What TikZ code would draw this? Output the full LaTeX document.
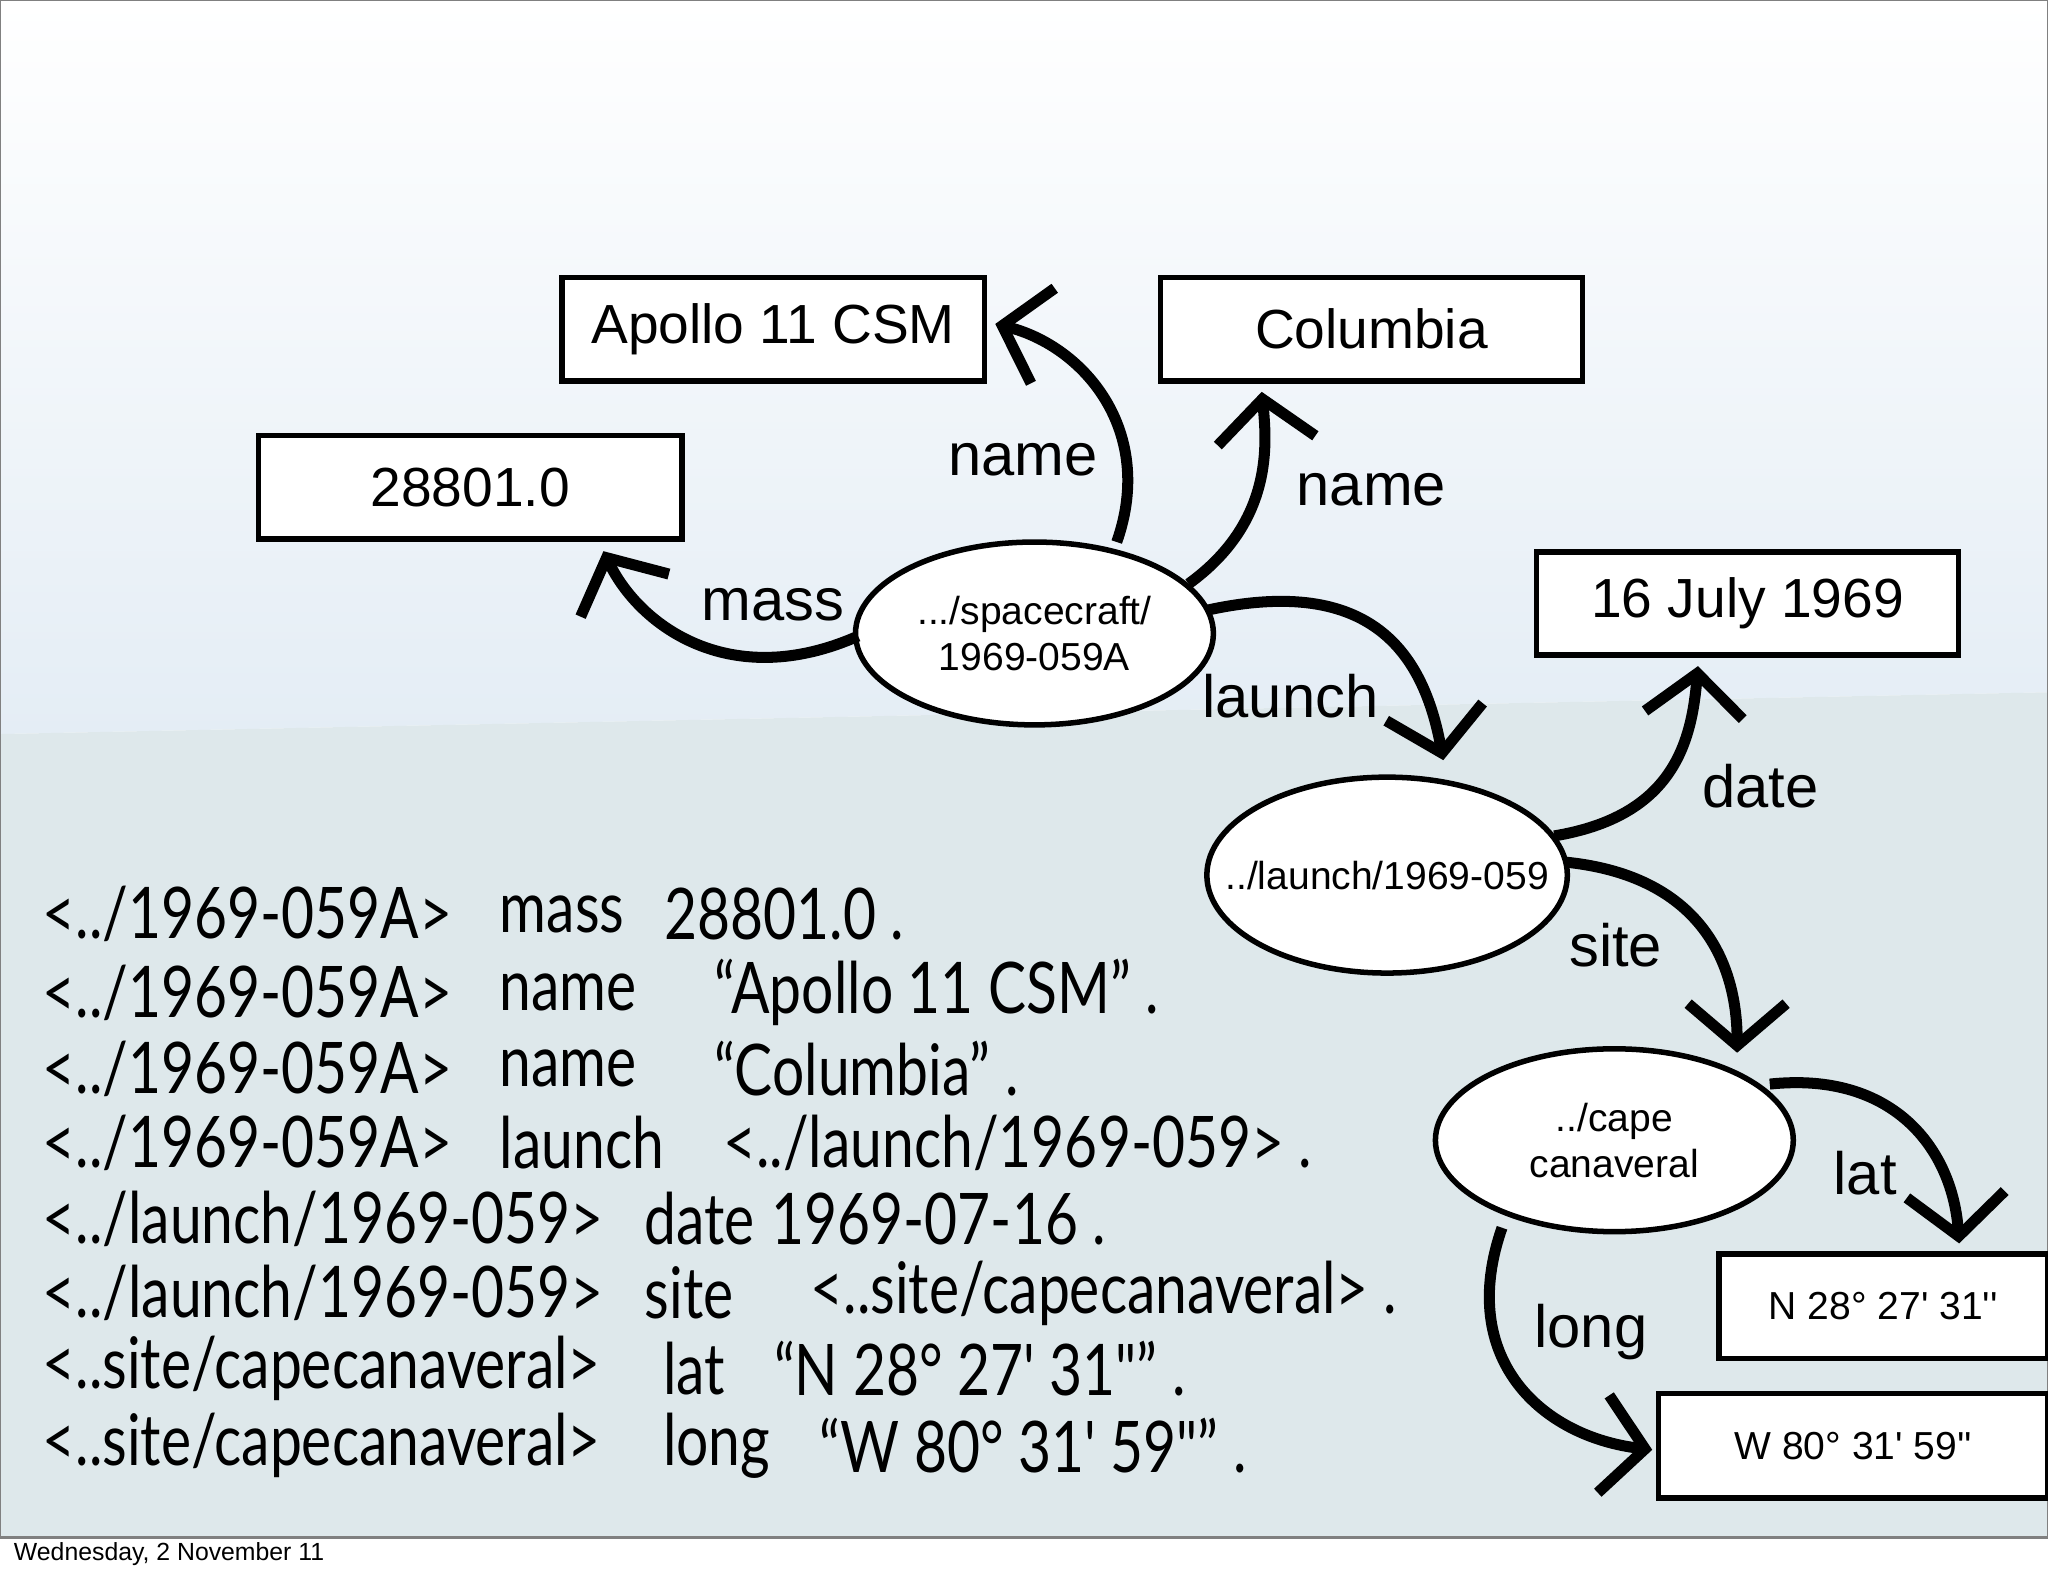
\documentclass[tikz,border=0pt]{standalone}
\usepackage{fontspec}
\setmainfont{Liberation Sans}
\newfontfamily\trip[FakeStretch=0.8]{Lato}
\usetikzlibrary{arrows.meta}
\definecolor{topb}{RGB}{228,237,245}
\definecolor{botb}{RGB}{222,232,235}
\begin{document}
\begin{tikzpicture}[x=0.01cm,y=-0.01cm,
 box/.style={draw,line width=1.2pt,fill=white,font=\fontsize{12}{14}\selectfont},
 arr/.style={line width=2.4pt,-{Straight Barb[length=0.32cm,width=0.75cm,line width=2.4pt]}},
 lab/.style={font=\fontsize{13}{15}\selectfont},
 tr/.style={anchor=west,font=\trip\fontsize{15.5}{18}\selectfont,inner sep=0}]
\useasboundingbox (0,0) rectangle (1568,1206);
\fill[white] (0,0) rectangle (1568,1206);
\shade[top color=white,bottom color=topb] (0,0) -- (1568,0) -- (1568,530) -- (0,562) -- cycle;
\fill[botb] (0,562) -- (1568,530) -- (1568,1177) -- (0,1177) -- cycle;
\draw[gray,line width=0.6pt] (0,0) rectangle (1568,1177);
\node[anchor=west,font=\fontsize{5.4}{7}\selectfont,inner sep=0] (foot) at (10,1190) {Wednesday, 2 November 11};
% boxes
\node[box,minimum width=3.23cm,minimum height=0.79cm] (apollo) at (592,252) {Apollo 11 CSM};
\node[box,minimum width=3.23cm,minimum height=0.79cm] (col) at (1050,252) {Columbia};
\node[box,minimum width=3.24cm,minimum height=0.79cm] (mass) at (360,373) {28801.0};
\node[box,minimum width=3.23cm,minimum height=0.79cm] (date) at (1338,462) {16 July 1969};
\node[box,minimum width=2.52cm,minimum height=0.80cm,font=\fontsize{8.5}{10}\selectfont] (lat) at (1442,1000) {N 28° 27{\textquotesingle} 31{\textquotesingle}{\textquotesingle}};
\node[box,minimum width=2.98cm,minimum height=0.80cm,font=\fontsize{8.5}{10}\selectfont] (long) at (1419,1107) {W 80° 31{\textquotesingle} 59{\textquotesingle}{\textquotesingle}};
% ellipses
\draw[line width=1.2pt,fill=white] (792,485) ellipse [x radius=137,y radius=70];
\node[align=center,font=\fontsize{8.5}{10}\selectfont] (sc) at (792,485) {.../spacecraft/\\1969-059A};
\draw[line width=1.2pt,fill=white] (1062,670) ellipse [x radius=138,y radius=75];
\node[font=\fontsize{8.5}{10}\selectfont] (la) at (1062,670) {../launch/1969-059};
\draw[line width=1.2pt,fill=white] (1236,873) ellipse [x radius=137,y radius=70];
\node[align=center,font=\fontsize{8.5}{10}\selectfont] (cape) at (1236,873) {../cape\\canaveral};
% arrows
\draw[arr] (657,487) .. controls (560,530) and (490,480) .. (462,422);
\draw[arr] (855,415) .. controls (885,330) and (830,265) .. (762,248);
\draw[arr] (910,447) .. controls (975,400) and (970,340) .. (966,300);
\draw[arr] (925,467) .. controls (1050,440) and (1090,500) .. (1105,582);
\draw[arr] (1190,640) .. controls (1280,625) and (1295,570) .. (1300,510);
\draw[arr] (1198,660) .. controls (1300,670) and (1330,735) .. (1330,806);
\draw[arr] (1355,830) .. controls (1450,820) and (1495,880) .. (1500,952);
\draw[arr] (1150,940) .. controls (1115,1040) and (1180,1100) .. (1265,1110);
% labels
\node[lab] at (783,352) {name};
\node[lab] at (1050,375) {name};
\node[lab] at (592,463) {mass};
\node[lab] at (988,533) {launch};
\node[lab] at (1348,602) {date};
\node[lab] at (1237,724) {site};
\node[lab] at (1428,898) {lat};
\node[lab] at (1218,1020) {long};
% triples
\node[tr] at (32,700) {<../1969-059A>}; \node[tr] at (382,700) {mass}; \node[tr] at (508,700) {28801.0 .};
\node[tr] at (32,760) {<../1969-059A>}; \node[tr] at (382,760) {name}; \node[tr] at (546,760) {“Apollo 11 CSM” .};
\node[tr] at (32,818) {<../1969-059A>}; \node[tr] at (382,818) {name}; \node[tr] at (546,818) {“Columbia” .};
\node[tr] at (32,875) {<../1969-059A>}; \node[tr] at (382,875) {launch}; \node[tr] at (553,875) {<../launch/1969-059> .};
\node[tr] at (32,933) {<../launch/1969-059>}; \node[tr] at (493,933) {date}; \node[tr] at (590,933) {1969-07-16 .};
\node[tr] at (32,990) {<../launch/1969-059>}; \node[tr] at (493,990) {site}; \node[tr] at (620,990) {<..site/capecanaveral> .};
\node[tr] at (32,1048) {<..site/capecanaveral>}; \node[tr] at (507,1048) {lat}; \node[tr] at (592,1048) {“N 28° 27' 31"” .};
\node[tr] at (32,1107) {<..site/capecanaveral>}; \node[tr] at (507,1107) {long}; \node[tr] at (627,1107) {“W 80° 31' 59"” .};
\end{tikzpicture}
\end{document}
